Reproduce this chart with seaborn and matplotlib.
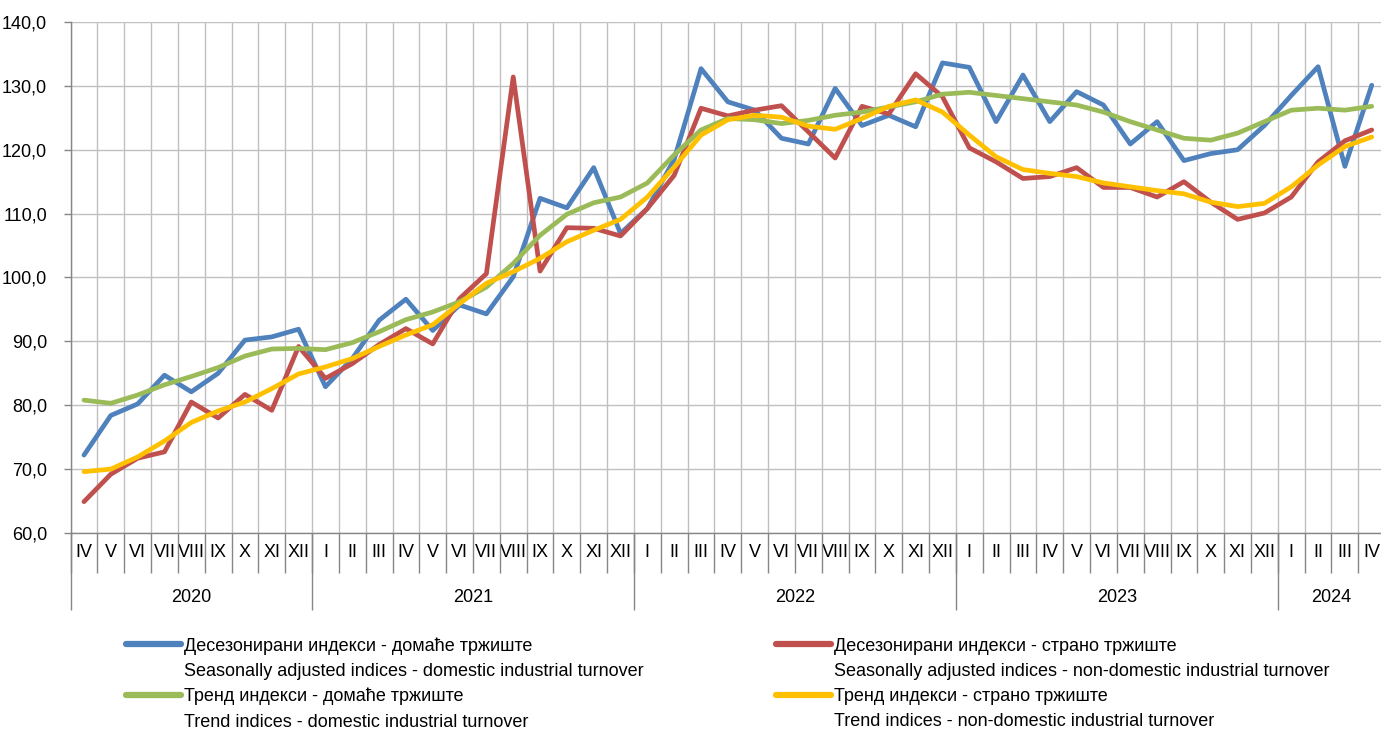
import pandas as pd
import seaborn as sns
import matplotlib.pyplot as plt
from matplotlib.lines import Line2D

# month / year labels (IV 2020 - IV 2024)
months = ["IV", "V", "VI", "VII", "VIII", "IX", "X", "XI", "XII"] + \
         ["I", "II", "III", "IV", "V", "VI", "VII", "VIII", "IX", "X", "XI", "XII"] * 3 + \
         ["I", "II", "III", "IV"]
years = ["2020"] * 9 + ["2021"] * 12 + ["2022"] * 12 + ["2023"] * 12 + ["2024"] * 4

# seasonally adjusted, domestic
sa_domestic = [72.2, 78.4, 80.2, 84.7, 82.1, 85.0, 90.2, 90.7, 91.9,
               82.9, 87.3, 93.3, 96.6, 91.7, 95.7, 94.3, 100.1, 112.4, 110.9, 117.2, 106.9,
               110.8, 118.5, 132.7, 127.5, 126.2, 121.8, 120.9, 129.6, 123.8, 125.4, 123.6, 133.6,
               132.9, 124.4, 131.7, 124.4, 129.1, 127.0, 120.9, 124.4, 118.3, 119.4, 120.0, 123.8,
               128.5, 133.0, 117.4, 130.1]
# seasonally adjusted, non-domestic
sa_foreign = [64.9, 69.2, 71.7, 72.7, 80.5, 78.0, 81.7, 79.2, 89.2,
              84.2, 86.5, 89.5, 92.0, 89.6, 96.7, 100.6, 131.4, 101.0, 107.8, 107.7, 106.5,
              110.8, 116.0, 126.5, 125.3, 126.2, 126.9, 122.8, 118.7, 126.8, 125.6, 131.9, 128.3,
              120.3, 118.1, 115.5, 115.8, 117.2, 114.1, 114.1, 112.6, 115.0, 111.8, 109.1, 110.1,
              112.6, 118.1, 121.4, 123.1]
# trend, domestic
trend_domestic = [80.8, 80.3, 81.6, 83.2, 84.5, 85.9, 87.7, 88.8, 88.9,
                  88.7, 89.8, 91.5, 93.4, 94.6, 96.2, 98.5, 102.2, 106.6, 109.9, 111.7, 112.6,
                  114.8, 119.2, 123.1, 124.9, 124.7, 124.1, 124.6, 125.4, 125.9, 126.7, 127.5, 128.7,
                  129.0, 128.5, 128.0, 127.5, 127.0, 125.9, 124.4, 123.1, 121.8, 121.5, 122.6, 124.4,
                  126.2, 126.5, 126.2, 126.8]
# trend, non-domestic
trend_foreign = [69.6, 70.0, 71.9, 74.4, 77.3, 79.1, 80.5, 82.6, 84.9,
                 86.0, 87.3, 89.2, 91.0, 92.6, 95.9, 99.1, 100.9, 103.0, 105.6, 107.4, 109.1,
                 112.6, 117.3, 122.3, 124.7, 125.4, 125.1, 123.7, 123.2, 124.9, 126.8, 127.8, 125.9,
                 122.3, 118.9, 116.9, 116.3, 115.8, 114.8, 114.2, 113.6, 113.1, 111.8, 111.1, 111.6,
                 114.2, 117.6, 120.5, 122.0]

labels = [
    "Десезонирани индекси - домаће тржиште",
    "Десезонирани индекси - страно тржиште",
    "Тренд индекси - домаће тржиште",
    "Тренд индекси - страно тржиште",
]
labels_en = [
    "Seasonally adjusted indices - domestic industrial turnover",
    "Seasonally adjusted indices - non-domestic industrial turnover",
    "Trend indices - domestic industrial turnover",
    "Trend indices - non-domestic industrial turnover",
]
colors = ["#4F81BD", "#C0504D", "#9BBB59", "#FFC000"]

n = len(months)
df = pd.concat([
    pd.DataFrame({"idx": range(n), "value": vals, "series": lab})
    for vals, lab in zip([sa_domestic, sa_foreign, trend_domestic, trend_foreign], labels)
])

sns.set_theme(style="white")
plt.rcParams["font.family"] = ["Liberation Sans Narrow", "Liberation Sans", "DejaVu Sans"]
plt.rcParams["text.color"] = "black"
plt.rcParams["xtick.color"] = "black"
plt.rcParams["ytick.color"] = "black"

fig = plt.figure(figsize=(13.81, 7.29), dpi=100)
ax = fig.add_axes([0.0511, 0.2689, 0.9519, 0.7009])

sns.lineplot(data=df, x="idx", y="value", hue="series", hue_order=labels,
             palette=dict(zip(labels, colors)), linewidth=3.4, legend=False, ax=ax,
             zorder=3)

# axes and grid
ax.set_xlim(-0.5, n - 0.5)
ax.set_ylim(60, 140)
ax.set_yticks(range(60, 141, 10))
ax.set_yticklabels([f"{v:.1f}".replace(".", ",") for v in range(60, 141, 10)], fontsize=13)
ax.tick_params(axis="y", length=5, width=1, color="#868686", labelcolor="black", pad=12, left=True)
ax.grid(axis="y", color="#C0C0C0", linewidth=1)
for b in range(n + 1):
    ax.axvline(b - 0.5, color="#C0C0C0", linewidth=1, zorder=1)
ax.set_xlabel("")
ax.set_ylabel("")
for s in ["top", "right"]:
    ax.spines[s].set_visible(False)
for s in ["left", "bottom"]:
    ax.spines[s].set_color("#868686")
    ax.spines[s].set_linewidth(1)

# month labels and separators
ax.set_xticks(range(n))
ax.set_xticklabels(months, fontsize=13)
ax.tick_params(axis="x", length=0, pad=8, labelcolor="black")
ax.set_xticks([b - 0.5 for b in range(n + 1)], minor=True)
ax.tick_params(axis="x", which="minor", length=29, width=1, color="#868686", bottom=True)

# year labels and separators
trans = ax.get_xaxis_transform()
bounds = [-0.5] + [i - 0.5 for i in range(1, n) if years[i] != years[i - 1]] + [n - 0.5]
ax.vlines(bounds, -0.151, 0, transform=trans, color="#868686", linewidth=1, clip_on=False)
for a, b in zip(bounds[:-1], bounds[1:]):
    ax.text((a + b) / 2, -0.127, years[int(a + 0.5)], transform=trans,
            ha="center", va="center", fontsize=13, color="black")

# legend: cyrillic line with handle, english line below it
handles, texts = [], []
for col in range(2):
    for row in range(2):
        k = row * 2 + col
        handles += [Line2D([], [], color=colors[k], linewidth=4.5, solid_capstyle="round"),
                    Line2D([], [], color="none")]
        texts += [labels[k], labels_en[k]]
leg = fig.legend(handles, texts, ncol=2, loc="upper left", bbox_to_anchor=(0.0915, 0.126),
                 frameon=False, fontsize=13, handlelength=3.0, handletextpad=0.2,
                 columnspacing=7.35, labelspacing=0.45, borderpad=0, borderaxespad=0)
for t in leg.get_texts():
    t.set_color("black")

fig.savefig("out.png", dpi=100)
